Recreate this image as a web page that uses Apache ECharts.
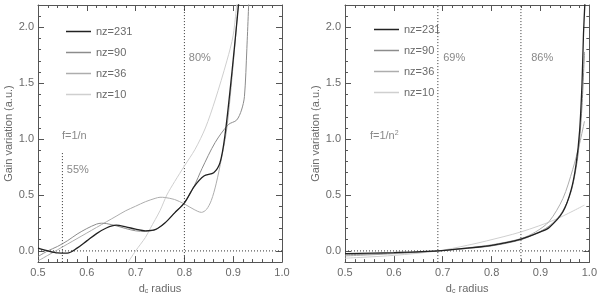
<!DOCTYPE html>
<html><head><meta charset="utf-8">
<script src="https://cdn.jsdelivr.net/npm/echarts@6/dist/echarts.min.js"></script>
<style>html,body{margin:0;padding:0;background:#fff}#c{width:600px;height:300px}</style>
</head><body><div id="c"></div>
<script>
// ---- data: left panel (f = 1/n) ----
const L231_x = [0.50,0.52,0.54,0.56,0.58,0.60,0.62,0.64,0.66,0.68,0.70,0.72,0.74,0.76,0.78,0.80,0.82,0.84,0.86,0.873,0.883,0.897,0.91,0.915];
const L231_y = [0.024,0.0,-0.018,-0.02,0.025,0.09,0.155,0.205,0.23,0.215,0.195,0.18,0.19,0.25,0.34,0.43,0.575,0.67,0.70,0.79,1.03,1.58,2.16,2.4];
const L90_x = [0.50,0.52,0.54,0.56,0.58,0.60,0.62,0.63,0.64,0.66,0.68,0.70,0.72,0.74,0.76,0.78,0.80,0.82,0.836,0.863,0.89,0.907,0.917,0.923,0.928,0.933];
const L90_y = [-0.05,0.0,0.04,0.09,0.15,0.2,0.24,0.248,0.245,0.225,0.2,0.18,0.175,0.19,0.25,0.34,0.43,0.58,0.736,0.97,1.13,1.17,1.26,1.38,1.81,2.35];
const L36_x = [0.50,0.52,0.54,0.56,0.58,0.60,0.62,0.64,0.66,0.68,0.70,0.72,0.74,0.75,0.76,0.78,0.80,0.82,0.835,0.845,0.855,0.865,0.877,0.887,0.90,0.912];
const L36_y = [-0.09,-0.04,0.01,0.06,0.11,0.16,0.21,0.26,0.31,0.36,0.40,0.44,0.47,0.48,0.478,0.46,0.42,0.37,0.345,0.37,0.45,0.6,0.85,1.1,1.67,2.3];
const L10_x = [0.682,0.70,0.72,0.73,0.75,0.764,0.78,0.80,0.822,0.843,0.863,0.887,0.90,0.908];
const L10_y = [-0.12,0.0,0.12,0.2,0.36,0.5,0.62,0.76,0.91,1.1,1.35,1.7,1.93,2.25];
// ---- data: right panel (f = 1/n^2) ----
const R231_x = [0.50,0.60,0.69,0.75,0.80,0.86,0.90,0.918,0.946,0.963,0.973,0.98,0.985,0.988,0.991,0.993];
const R231_y = [-0.025,-0.015,0.0,0.025,0.05,0.106,0.17,0.21,0.35,0.55,0.78,1.07,1.5,1.94,2.23,2.4];
const R90_x = [0.50,0.60,0.69,0.75,0.80,0.86,0.90,0.92,0.94,0.955,0.965,0.975,0.98,0.985,0.99];
const R90_y = [-0.035,-0.02,0.0,0.022,0.045,0.1,0.175,0.23,0.32,0.44,0.57,0.8,1.0,1.3,1.78];
const R36_x = [0.50,0.60,0.69,0.75,0.80,0.86,0.89,0.918,0.946,0.966,0.98,0.99];
const R36_y = [-0.045,-0.025,0.0,0.028,0.055,0.11,0.17,0.265,0.47,0.73,0.96,1.16];
const R10_x = [0.50,0.60,0.69,0.75,0.79,0.86,0.93,0.99];
const R10_y = [-0.065,-0.04,0.0,0.05,0.09,0.17,0.28,0.41];
// ---- labels / reference lines ----
const seriesNames = ['nz=231','nz=90','nz=36','nz=10'];
const yMajor = [0,0.5,1.0,1.5,2.0];
const leftVLines = [{x:0.8, y0:-0.1, y1:2.2},{x:0.55, y0:-0.1, y1:0.88}];
const rightVLines = [{x:0.69, y0:-0.1, y1:2.2},{x:0.86, y0:-0.1, y1:2.2}];
const leftNotes = [[0.809,1.725,'80%'],[0.559,0.72,'55%'],[0.549,1.027,'f=1/n']];
const rightNotes = [[0.701,1.73,'69%'],[0.881,1.73,'86%'],[0.551,1.024,'f=1/n{sup|2}']];

const colors = ['#222','#8c8c8c','#adadad','#cfcfcf'];
const widths = [1.3,1,1,1];
const FONT = 'Liberation Sans';
const TXT = '#6a6a6a';
const AX = '#555';
const zip = (xs, ys) => xs.map((x,i)=>[x, ys[i]]);

const grids = [
  {left:38, right:318, top:5, bottom:31},
  {left:345, right:10, top:5, bottom:32}
];

const xAxis = [], yAxis = [], series = [];
grids.forEach((g, gi) => {
  xAxis.push({type:'value', gridIndex:gi, min:0.5, max:1.0, interval:0.1, position:'bottom',
    axisLine:{show:true, onZero:false, lineStyle:{color:AX}},
    axisTick:{show:true, inside:true, length:6, lineStyle:{color:AX}},
    minorTick:{show:true, splitNumber:5, length:3, lineStyle:{color:AX}},
    splitLine:{show:false}, minorSplitLine:{show:false},
    axisLabel:{color:TXT, fontFamily:FONT, fontSize:11, margin:5, formatter:v=>v.toFixed(1)},
    name:'d{sub|c} radius', nameLocation:'middle', nameGap:19,
    nameTextStyle:{color:TXT, fontFamily:FONT, fontSize:11, rich:{sub:{fontSize:7, verticalAlign:'bottom', padding:[6,0,0,0], color:TXT, fontFamily:FONT}}}
  });
  xAxis.push({type:'value', gridIndex:gi, min:0.5, max:1.0, interval:0.1, position:'top',
    axisLine:{show:true, onZero:false, lineStyle:{color:AX}},
    axisTick:{show:true, inside:true, length:6, lineStyle:{color:AX}},
    minorTick:{show:true, splitNumber:5, length:3, lineStyle:{color:AX}},
    splitLine:{show:false}, axisLabel:{show:false}
  });
  yAxis.push({type:'value', gridIndex:gi, min:-0.1, max:2.2, interval:0.1, position:'left',
    axisLine:{show:true, onZero:false, lineStyle:{color:AX}},
    axisTick:{show:true, inside:true, length:3, lineStyle:{color:AX}},
    splitLine:{show:false},
    axisLabel:{color:TXT, fontFamily:FONT, fontSize:11, margin:4, customValues:yMajor, formatter:v=>v.toFixed(1)},
    name:'Gain variation (a.u.)', nameLocation:'middle', nameGap:24,
    nameTextStyle:{color:TXT, fontFamily:FONT, fontSize:11}
  });
  yAxis.push({type:'value', gridIndex:gi, min:-0.1, max:2.2, position:'left',
    axisLine:{show:false}, axisTick:{show:true, inside:true, length:6, customValues:yMajor, lineStyle:{color:AX}},
    splitLine:{show:false}, axisLabel:{show:false, customValues:yMajor}
  });
  yAxis.push({type:'value', gridIndex:gi, min:-0.1, max:2.2, interval:0.1, position:'right',
    axisLine:{show:true, onZero:false, lineStyle:{color:AX}},
    axisTick:{show:true, inside:true, length:3, lineStyle:{color:AX}},
    splitLine:{show:false}, axisLabel:{show:false}
  });
  yAxis.push({type:'value', gridIndex:gi, min:-0.1, max:2.2, position:'right',
    axisLine:{show:false}, axisTick:{show:true, inside:true, length:6, customValues:yMajor, lineStyle:{color:AX}},
    splitLine:{show:false}, axisLabel:{show:false, customValues:yMajor}
  });
});

const xi = gi => gi*2, yi = gi => gi*4;
const panels = [
  {xs:[L231_x,L90_x,L36_x,L10_x], ys:[L231_y,L90_y,L36_y,L10_y], vl:leftVLines, notes:leftNotes},
  {xs:[R231_x,R90_x,R36_x,R10_x], ys:[R231_y,R90_y,R36_y,R10_y], vl:rightVLines, notes:rightNotes}
];
panels.forEach((p, gi) => {
  series.push({type:'line', xAxisIndex:xi(gi), yAxisIndex:yi(gi), data:[[0.5,0],[1.0,0]], symbol:'none', silent:true,
    lineStyle:{color:'#333', width:1, type:[1,2]}, z:1});
  p.vl.forEach(v => series.push({type:'line', xAxisIndex:xi(gi), yAxisIndex:yi(gi), data:[[v.x,v.y0],[v.x,v.y1]], symbol:'none', silent:true,
    lineStyle:{color:'#333', width:1, type:[1,2]}, z:1}));
  for (let k = 3; k >= 0; k--) {
    series.push({type:'line', name:seriesNames[k], xAxisIndex:xi(gi), yAxisIndex:yi(gi),
      data:zip(p.xs[k], p.ys[k]), symbol:'none', smooth:0.3, clip:true,
      lineStyle:{color:colors[k], width:widths[k]}, itemStyle:{color:colors[k]}, z:2+(3-k)});
  }
  series.push({type:'scatter', xAxisIndex:xi(gi), yAxisIndex:yi(gi), symbolSize:0, silent:true,
    data:p.notes.map(n=>({value:[n[0],n[1]], name:n[2]})),
    label:{show:true, position:'right', distance:0, formatter:d=>d.name, color:TXT, fontFamily:FONT, fontSize:11,
      rich:{sup:{fontSize:7, verticalAlign:'top', padding:[0,0,6,0], color:TXT, fontFamily:FONT}}}});
});

const legendBase = {orient:'vertical', icon:'rect', itemWidth:25, itemHeight:1.5, itemGap:10, data:seriesNames,
  textStyle:{color:TXT, fontFamily:FONT, fontSize:11}, selectedMode:false};
const option = {
  animation:false,
  grid:grids,
  xAxis, yAxis, series,
  legend:[Object.assign({left:61, top:21}, legendBase), Object.assign({left:369, top:19}, legendBase)]
};
echarts.init(document.getElementById('c')).setOption(option);
</script></body></html>
